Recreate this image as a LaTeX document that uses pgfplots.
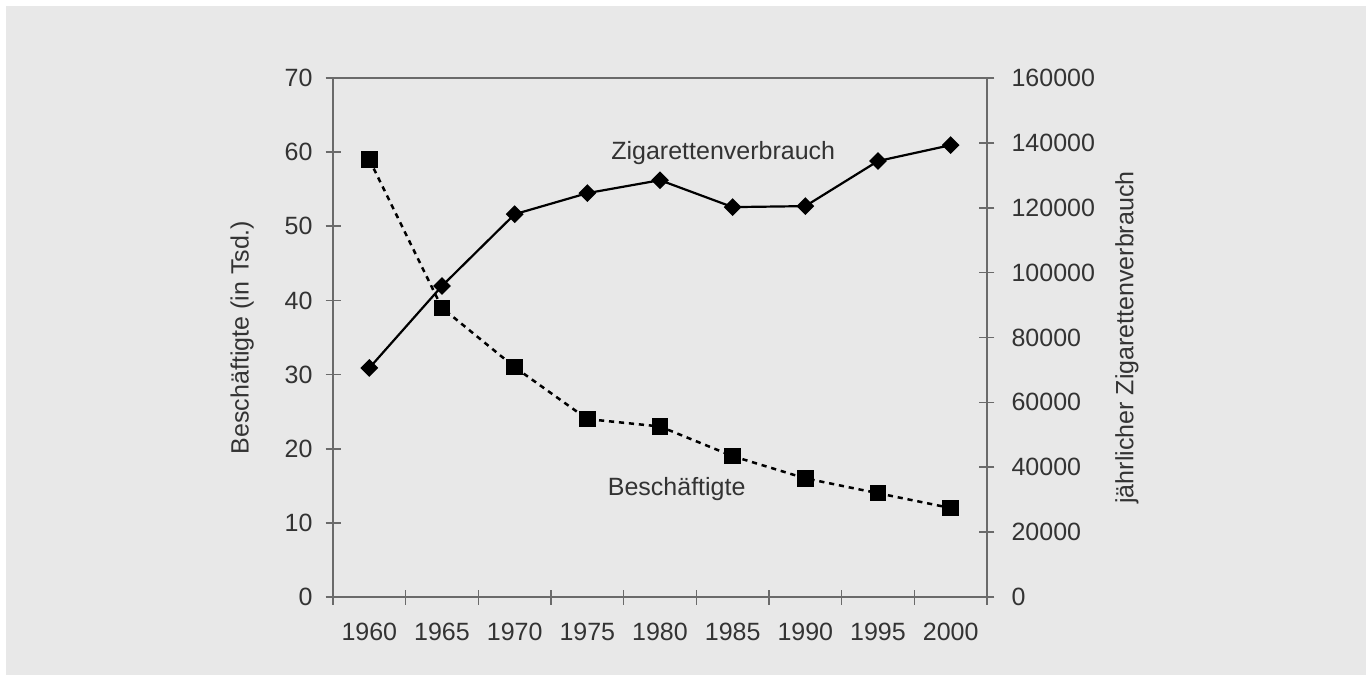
\documentclass[border=0pt]{standalone}
\usepackage{pgfplots}
\pgfplotsset{compat=1.18}
\usepackage{fontspec}
\setmainfont{Liberation Sans}
\definecolor{bg}{HTML}{E8E8E8}
\definecolor{axgray}{HTML}{6A6A6A}
\definecolor{txt}{HTML}{333333}
\pgfplotstableread{
x year besch
0 1960 59
1 1965 39
2 1970 31
3 1975 24
4 1980 23
5 1985 19
6 1990 16
7 1995 14
8 2000 12
}\beschtable
\pgfplotstableread{
x year zig
0 1960 70600
1 1965 95900
2 1970 118000
3 1975 124500
4 1980 128500
5 1985 120200
6 1990 120500
7 1995 134400
8 2000 139300
}\zigtable
\begin{document}
\begin{tikzpicture}
\fill[white] (0pt,0pt) rectangle (686pt,340.5pt);
\fill[bg] (3pt,3pt) rectangle (683pt,337.5pt);
\pgfplotsset{
  common/.style={
    scale only axis, width=327pt, height=259.5pt,
    at={(166.5pt,42pt)}, anchor=south west,
    xmin=-0.5, xmax=8.5,
    tick align=center, major tick length=7.5pt, minor tick length=7.5pt,
    axis line style={draw=axgray, line width=1pt},
    every tick/.style={draw=axgray, line width=0.8pt},
    tick label style={font=\fontsize{12.5}{15}\selectfont, text=txt},
    /pgf/number format/assume math mode=true,
    clip=false,
  }
}
\begin{axis}[common,
  ymin=0, ymax=70, ytick={0,10,...,70},
  xtick={0,...,8}, xticklabels={1960,1965,1970,1975,1980,1985,1990,1995,2000},
  x tick style={draw=none},
  minor xtick={-0.5,0.5,1.5,2.5,3.5,4.5,5.5,6.5,7.5,8.5},
  minor x tick style={draw=axgray, line width=0.8pt},
  y tick style={draw=axgray, line width=0.8pt},
  xticklabel style={yshift=-5.5pt},
  yticklabel style={xshift=-3pt},
  axis y line*=left, axis x line*=bottom,
]
\draw[axgray, line width=1pt] (rel axis cs:0,1) -- (rel axis cs:1,1);
\addplot[black, line width=1.25pt, dash pattern=on 2.6pt off 2.4pt, mark=square*, mark size=3.5pt, mark options={solid}] table[x=x,y=besch] {\beschtable};
\node[font=\fontsize{12.5}{15}\selectfont, text=txt] at (axis cs:4.87,59.9) {Zigarettenverbrauch};
\node[font=\fontsize{12.5}{15}\selectfont, text=txt] at (axis cs:4.23,14.6) {Beschäftigte};
\node[rotate=90, font=\fontsize{12.5}{15}\selectfont, text=txt] at (rel axis cs:-0.139,0.5) {Beschäftigte (in Tsd.)};
\node[rotate=90, font=\fontsize{12.5}{15}\selectfont, text=txt] at (rel axis cs:1.214,0.5) {jährlicher Zigarettenverbrauch};
\end{axis}
\begin{axis}[common,
  ymin=0, ymax=160000, ytick={0,20000,...,160000},
  scaled y ticks=false,
  yticklabel style={/pgf/number format/fixed, /pgf/number format/1000 sep={}, xshift=5pt},
  axis y line*=right, axis x line=none,
]
\addplot[black, line width=1.1pt, mark=square*, mark size=2.6pt, mark options={rotate=45}] table[x=x,y=zig] {\zigtable};
\end{axis}
\end{tikzpicture}
\end{document}
